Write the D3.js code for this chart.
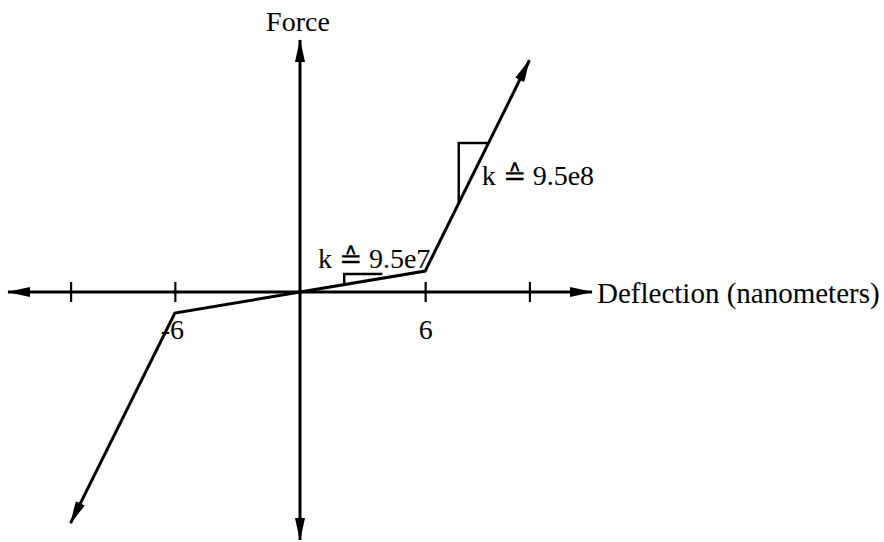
<!DOCTYPE html>
<html>
<head>
<meta charset="utf-8">
<script src="https://cdn.jsdelivr.net/npm/d3@7"></script>
<style>
  html, body { margin: 0; padding: 0; background: #fff; }
  svg { display: block; }
  text { font-family: "Liberation Serif", "Times New Roman", serif; fill: #000; }
</style>
</head>
<body>
<svg id="chart" width="884" height="542"></svg>
<script>
// Piecewise-linear force vs. deflection (nm); force in N.
const deflection = [-11, -6, 0, 6, 11];
const force = [-6.28, -0.57, 0, 0.57, 6.3];

// Axis extents and tick marks (nm)
const xExtent = [-14, 14];
const yExtent = [-6.74, 6.85];
const tickValues = [-11, -6, 6, 11];
const tickLabels = ["", "-6", "6", ""];

// Stiffness annotations: slope triangles and their labels
const softTriangle = [[2.12, 0.2], [2.12, 0.49], [3.95, 0.49]];
const stiffTriangle = [[7.61, 2.42], [7.61, 4.05], [9.04, 4.05]];
const slopeLabels = ["k \u2259 9.5e7", "k \u2259 9.5e8"];
const slopeLabelPos = [[0.86, 0.65], [8.71, 2.91]];

const axisTitleX = "Deflection (nanometers)";
const axisTitleY = "Force";

const svg = d3.select("#chart");
const x = d3.scaleLinear().domain(xExtent).range([8, 592]);
const y = d3.scaleLinear().domain(yExtent).range([540, 40]);

// Filled arrowhead used at every line end
svg.append("defs").append("marker")
  .attr("id", "arrow")
  .attr("viewBox", "0 0 23 10")
  .attr("refX", 22).attr("refY", 5)
  .attr("markerWidth", 23).attr("markerHeight", 10)
  .attr("markerUnits", "userSpaceOnUse")
  .attr("orient", "auto-start-reverse")
  .append("path").attr("d", "M0,0 L23,5 L0,10 Z").attr("fill", "#000");

// Horizontal axis with ticks
const gx = svg.append("g").attr("transform", `translate(0,${y(0)})`)
  .call(d3.axisBottom(x).tickValues(tickValues)
    .tickFormat((d, i) => tickLabels[i]).tickSizeOuter(0));
gx.select(".domain").remove();
gx.selectAll(".tick line").attr("y1", -10).attr("y2", 10)
  .attr("stroke", "#000").attr("stroke-width", 2.2);
gx.selectAll(".tick text")
  .attr("y", 47).attr("dy", 0)
  .attr("dx", d => d < 0 ? -3 : 0)
  .style("font-family", "'Liberation Serif', serif")
  .style("font-size", "28px").attr("fill", "#000");

svg.append("line")
  .attr("x1", x(xExtent[0])).attr("x2", x(xExtent[1]))
  .attr("y1", y(0)).attr("y2", y(0))
  .attr("stroke", "#000").attr("stroke-width", 3)
  .attr("marker-start", "url(#arrow)").attr("marker-end", "url(#arrow)");

// Vertical axis
svg.append("line")
  .attr("x1", x(0)).attr("x2", x(0))
  .attr("y1", y(yExtent[0])).attr("y2", y(yExtent[1]))
  .attr("stroke", "#000").attr("stroke-width", 3)
  .attr("marker-start", "url(#arrow)").attr("marker-end", "url(#arrow)");

// Force curve
const pts = deflection.map((d, i) => [d, force[i]]);
const line = d3.line().x(d => x(d[0])).y(d => y(d[1]));
svg.append("path").datum(pts)
  .attr("d", line)
  .attr("fill", "none").attr("stroke", "#000").attr("stroke-width", 3)
  .attr("stroke-linejoin", "miter")
  .attr("marker-start", "url(#arrow)").attr("marker-end", "url(#arrow)");

// Slope triangles
[softTriangle, stiffTriangle].forEach(t => {
  svg.append("path").datum(t)
    .attr("d", line)
    .attr("fill", "none").attr("stroke", "#000").attr("stroke-width", 2.4);
});

// Slope labels
slopeLabels.forEach((s, i) => {
  svg.append("text")
    .attr("x", x(slopeLabelPos[i][0])).attr("y", y(slopeLabelPos[i][1]))
    .style("font-size", "28px")
    .text(s);
});

// Axis titles
svg.append("text")
  .attr("x", x(0) - 2).attr("y", 31)
  .attr("text-anchor", "middle")
  .style("font-size", "28px")
  .text(axisTitleY);

svg.append("text")
  .attr("x", x(xExtent[1]) + 5).attr("y", y(0) + 11)
  .style("font-size", "29px")
  .text(axisTitleX);
</script>
</body>
</html>
